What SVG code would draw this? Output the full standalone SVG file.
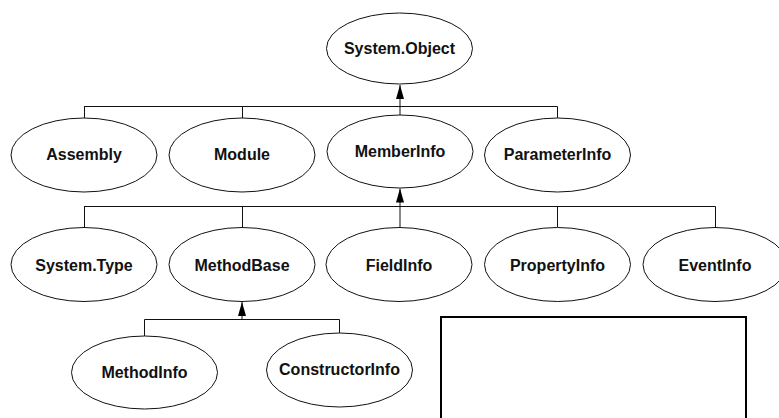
<svg xmlns="http://www.w3.org/2000/svg" width="779" height="418" viewBox="0 0 779 418">
<style>
  .node ellipse { fill: #ffffff; stroke: #111111; stroke-width: 1; }
  .node text { font-family: "Liberation Sans", Arial, sans-serif; font-weight: bold; font-size: 16px; fill: #111111; text-anchor: middle; }
  .conn line { stroke: #111111; stroke-width: 1; fill: none; }
  .arrow line { marker-end: url(#tri); }
  .frame { fill: #ffffff; stroke: #000000; stroke-width: 2; }
</style>
<defs>
  <marker id="tri" viewBox="0 0 14 8" refX="14" refY="4" markerWidth="14" markerHeight="8" markerUnits="userSpaceOnUse" orient="auto">
    <path d="M0,0 L14,4 L0,8 Z" fill="#000000"/>
  </marker>
</defs>
<rect width="779" height="418" fill="#ffffff"/>

<g id="connectors" class="conn">
  <!-- level 1 -->
  <line x1="84" y1="106.5" x2="557.5" y2="106.5"/>
  <line x1="84.5" y1="106.5" x2="84.5" y2="118"/>
  <line x1="242.5" y1="106.5" x2="242.5" y2="118"/>
  <line x1="557.5" y1="106.5" x2="557.5" y2="118"/>
  <line x1="400" y1="115" x2="400" y2="106.5"/>
  <g class="arrow"><line x1="400" y1="106.5" x2="400" y2="85"/></g>
  <!-- level 2 -->
  <line x1="84" y1="206.5" x2="715.5" y2="206.5"/>
  <line x1="84.5" y1="206.5" x2="84.5" y2="227"/>
  <line x1="242.5" y1="206.5" x2="242.5" y2="227"/>
  <line x1="557.5" y1="206.5" x2="557.5" y2="227"/>
  <line x1="715.5" y1="206.5" x2="715.5" y2="227"/>
  <g class="arrow"><line x1="400" y1="227" x2="400" y2="188.5"/></g>
  <!-- level 3 -->
  <line x1="144.5" y1="319.5" x2="339.5" y2="319.5"/>
  <line x1="144.5" y1="319.5" x2="144.5" y2="336"/>
  <line x1="339.5" y1="319.5" x2="339.5" y2="333"/>
  <g class="arrow"><line x1="242" y1="319.5" x2="242" y2="302"/></g>
</g>

<g id="system-object" class="node"><ellipse cx="399.5" cy="48.5" rx="73" ry="35.5"/><text x="399.5" y="54">System.Object</text></g>

<g id="assembly" class="node"><ellipse cx="84" cy="155" rx="73" ry="37"/><text x="84" y="159.5">Assembly</text></g>
<g id="module" class="node"><ellipse cx="242" cy="155" rx="73" ry="37"/><text x="242" y="159.5">Module</text></g>
<g id="memberinfo" class="node"><ellipse cx="400" cy="151.5" rx="73" ry="36.5"/><text x="400" y="156.5">MemberInfo</text></g>
<g id="parameterinfo" class="node"><ellipse cx="557.5" cy="155" rx="73" ry="37"/><text x="557.5" y="159.5">ParameterInfo</text></g>

<g id="system-type" class="node"><ellipse cx="84" cy="264.5" rx="73" ry="37"/><text x="84" y="270.5">System.Type</text></g>
<g id="methodbase" class="node"><ellipse cx="242" cy="264.5" rx="73" ry="37"/><text x="242" y="270.5">MethodBase</text></g>
<g id="fieldinfo" class="node"><ellipse cx="399" cy="264.5" rx="73" ry="37"/><text x="399" y="270.5">FieldInfo</text></g>
<g id="propertyinfo" class="node"><ellipse cx="557.5" cy="264.5" rx="73" ry="37"/><text x="557.5" y="270.5">PropertyInfo</text></g>
<g id="eventinfo" class="node"><ellipse cx="715" cy="264.5" rx="72" ry="37"/><text x="715" y="270.5">EventInfo</text></g>

<g id="methodinfo" class="node"><ellipse cx="144.5" cy="372.5" rx="73" ry="36.5"/><text x="144.5" y="377.5">MethodInfo</text></g>
<g id="constructorinfo" class="node"><ellipse cx="339.5" cy="370" rx="73" ry="37"/><text x="339.5" y="374.5">ConstructorInfo</text></g>

<g id="blank-box"><rect class="frame" x="441" y="317" width="305" height="110"/></g>
</svg>
